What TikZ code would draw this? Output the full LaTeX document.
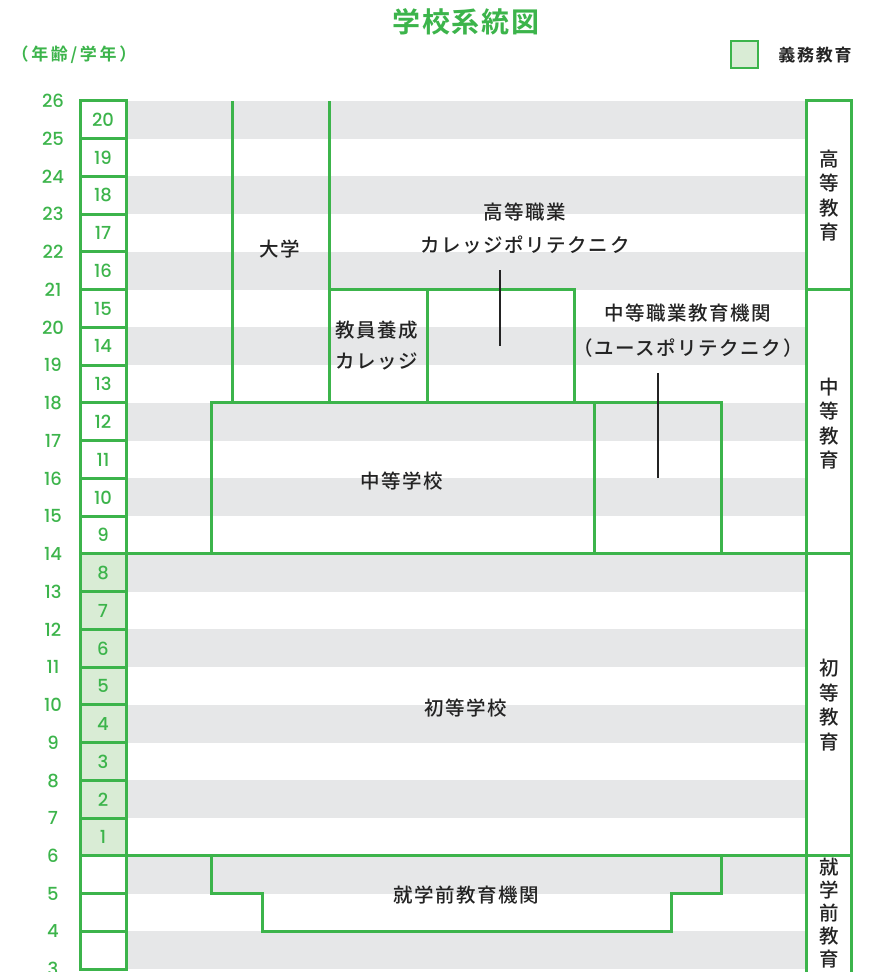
\documentclass[tikz,border=0pt]{standalone}
\usepackage{fontspec}
\setmainfont{Noto Sans CJK JP Medium}[BoldFont=Noto Sans CJK JP Bold]
\newfontfamily\numfont{Poppins Medium}
\definecolor{grn}{RGB}{60,180,75}
\definecolor{stripe}{RGB}{230,231,232}
\definecolor{lgrn}{RGB}{217,236,213}
\definecolor{txt}{RGB}{35,35,35}
\tikzset{
  gline/.style={draw=grn, line width=3pt, line join=miter},
  lbl/.style={text=txt, font=\fontsize{19.5}{24}\selectfont\addfontfeature{LetterSpace=8}, align=center, inner sep=0pt},
  vlbl/.style={text=txt, font=\fontsize{19.5}{24.5}\selectfont, align=center, inner sep=0pt},
  agenum/.style={text=grn, font=\numfont\fontsize{18}{20}\selectfont, inner sep=0pt},
  gradenum/.style={text=grn, font=\numfont\fontsize{18}{20}\selectfont, inner sep=0pt},
  blk/.style={draw=txt, line width=1.6pt}
}
\begin{document}
\begin{tikzpicture}[x=1pt, y=37.75pt]
\useasboundingbox (0,2.9272) rectangle (875,28.6755);
% stripes
\foreach \a in {3,5,...,25}{
  \fill[stripe] (127,\a) rectangle (806,\a+1);
}
% left grade column
\foreach \a in {3,...,25}{
  \ifnum\a<14 \ifnum\a>5
    \filldraw[gline, fill=lgrn] (80,\a) rectangle (126,\a+1);
  \else
    \filldraw[gline, fill=white] (80,\a) rectangle (126,\a+1);
  \fi\else
    \filldraw[gline, fill=white] (80,\a) rectangle (126,\a+1);
  \fi
}
\foreach \a in {6,...,25}{
  \pgfmathtruncatemacro{\g}{\a-5}
  \node[gradenum] (g\a) at (103,\a+0.5) {\g};
}
% age labels
\foreach \a in {3,...,26}{
  \node[agenum] (age\a) at (53,\a) {\a};
}
% right column
\filldraw[gline, fill=white] (806,21) rectangle (851,26);
\filldraw[gline, fill=white] (806,14) rectangle (851,21);
\filldraw[gline, fill=white] (806,6) rectangle (851,14);
\filldraw[gline, fill=white] (806,2.9) rectangle (851,6);
\node[vlbl] (r1) at (829,23.5) {高\\等\\教\\育};
\node[vlbl] (r2) at (829,17.45) {中\\等\\教\\育};
\node[vlbl] (r3) at (829,10.0) {初\\等\\教\\育};
\node[vlbl, font=\fontsize{19.5}{23}\selectfont] (r4) at (829,4.48) {就\\学\\前\\教\\育};
% main structure
\draw[gline] (232,26) -- (232,18);
\draw[gline] (329,26) -- (329,18);
\draw[gline] (329,21) -- (574,21) -- (574,18);
\draw[gline] (427,21) -- (427,18);
\draw[gline] (211,14) rectangle (594,18);
\draw[gline] (594,14) rectangle (721,18);
\draw[gline] (126,14) -- (806,14);
\draw[gline] (126,6) -- (806,6);
\draw[gline] (211,6) -- (211,5) -- (262,5) -- (262,4) -- (671,4) -- (671,5) -- (721,5) -- (721,6);
% black leader lines
\coordinate (b1) at (500,21.52);
\coordinate (b2) at (500,19.51);
\coordinate (b3) at (658,18.80);
\coordinate (b4) at (658,16.01);
\draw[blk] (b1) -- (b2);
\draw[blk] (b3) -- (b4);
% labels
\node[lbl] (univ) at (280,22.08) {大学};
\node[lbl] (kosho) at (525,23.06) {高等職業};
\node[lbl] (poly) at (525,22.19) {カレッジポリテクニク};
\node[lbl] (kyoin) at (377,19.93) {教員養成};
\node[lbl] (kyoin2) at (377,19.11) {カレッジ};
\node[lbl] (chusho) at (688,20.38) {中等職業教育機関};
\node[lbl] (youth) at (688,19.46) {（ユースポリテクニク）};
\node[lbl] (chugaku) at (402,15.93) {中等学校};
\node[lbl] (shogaku) at (466,9.92) {初等学校};
\node[lbl] (shugaku) at (466,4.97) {就学前教育機関};
% header
\node[text=grn, font=\bfseries\fontsize{28}{32}\selectfont\addfontfeature{LetterSpace=6}, inner sep=0pt] (title) at (466,28.09) {学校系統図};
\node[text=grn, font=\bfseries\fontsize{17}{18}\selectfont\addfontfeature{LetterSpace=16}, inner sep=0pt] (unit) at (74,27.22) {（年齢/学年）};
\filldraw[draw=grn, line width=2.5pt, fill=lgrn] (731,26.88) rectangle (758,27.59);
\node[text=txt, font=\bfseries\fontsize{17}{18}\selectfont\addfontfeature{LetterSpace=10}, inner sep=0pt] (legend) at (815,27.22) {義務教育};
\end{tikzpicture}
\end{document}
